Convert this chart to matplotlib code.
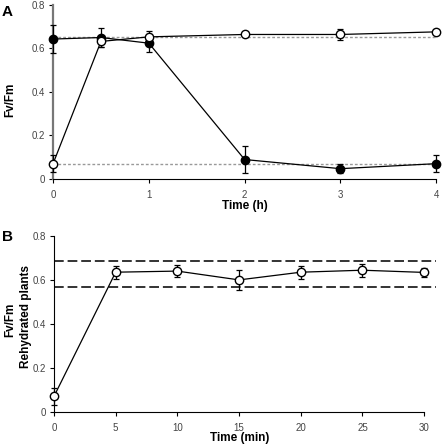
import matplotlib.pyplot as plt

plt.rcParams['font.family'] = ['Liberation Sans', 'DejaVu Sans']

# Panel A data
time_h = [0, 0.5, 1, 2, 3, 4]
closed_a = [0.643, 0.650, 0.624, 0.089, 0.047, 0.070]
closed_err = [0.063, 0.043, 0.040, 0.060, 0.022, 0.038]
open_a = [0.070, 0.632, 0.653, 0.664, 0.664, 0.676]
open_err = [0.038, 0.024, 0.027, 0.008, 0.024, 0.008]
ref_a = [0.652, 0.070]

# Panel B data
time_min = [0, 5, 10, 15, 20, 25, 30]
open_b = [0.071, 0.635, 0.640, 0.600, 0.635, 0.644, 0.634]
open_b_err = [0.038, 0.030, 0.028, 0.045, 0.030, 0.030, 0.020]
ref_b = [0.688, 0.566]
ref_b_span = [0, 31]

tick_col = '#444444'

fig = plt.figure(figsize=(4.46, 4.45), dpi=100)
ax1 = fig.add_axes([0.119, 0.598, 0.859, 0.391])
ax2 = fig.add_axes([0.121, 0.074, 0.830, 0.396])

for ax in (ax1, ax2):
    ax.spines['top'].set_visible(False)
    ax.spines['right'].set_visible(False)
    ax.tick_params(direction='out', length=3, width=0.8, labelsize=7,
                   labelcolor=tick_col)
    ax.tick_params(axis='y', pad=3)
    ax.tick_params(axis='x', pad=5)
    ax.set_ylim(0, 0.8)
    ax.set_yticks([0, 0.2, 0.4, 0.6, 0.8])
    ax.set_yticklabels(['0', '0.2', '0.4', '0.6', '0.8'])

err_kw = dict(color='black', lw=0.9, marker='o', ms=6, mec='black',
              capsize=2.5, elinewidth=0.9, capthick=0.9, clip_on=False)

# panel A
ax1.spines['left'].set_color('#777777')
ax1.spines['left'].set_linewidth(1.6)
for y in ref_a:
    ax1.axhline(y, color='#999999', lw=1, ls=(0, (2, 1.5)), zorder=1)
ax1.errorbar(time_h, closed_a, yerr=closed_err, mfc='black', zorder=3, **err_kw)
ax1.errorbar(time_h, open_a, yerr=open_err, mfc='white', zorder=4, **err_kw)
ax1.set_xlim(0, 4)
ax1.set_xticks([0, 1, 2, 3, 4])
fig.text(245 / 446, 1 - 206 / 445, 'Time (h)', fontsize=8.5,
         fontweight='bold', ha='center', va='center')
fig.text(10 / 446, 1 - 100 / 445, 'Fv/Fm', fontsize=8.5, fontweight='bold',
         rotation=90, ha='center', va='center')
fig.text(2 / 446, 1 - 12 / 445, 'A', fontsize=11, fontweight='bold',
         va='center')

# panel B
for y in ref_b:
    ax2.plot(ref_b_span, [y, y], color='#333333', lw=1.4, ls=(0, (5, 2)),
             zorder=1, clip_on=False)
ax2.errorbar(time_min, open_b, yerr=open_b_err, mfc='white', zorder=4,
             **err_kw)
ax2.set_xlim(0, 30)
ax2.set_xticks([0, 5, 10, 15, 20, 25, 30])
fig.text(240 / 446, 1 - 438 / 445, 'Time (min)', fontsize=8.5,
         fontweight='bold', ha='center', va='center')
fig.text(10 / 446, 1 - 320 / 445, 'Fv/Fm', fontsize=8.5, fontweight='bold',
         rotation=90, ha='center', va='center')
fig.text(26 / 446, 1 - 317 / 445, 'Rehydrated plants', fontsize=8.5,
         fontweight='bold', rotation=90, ha='center', va='center')
fig.text(2 / 446, 1 - 237 / 445, 'B', fontsize=11, fontweight='bold',
         va='center')

fig.savefig('out.png', dpi=100)
